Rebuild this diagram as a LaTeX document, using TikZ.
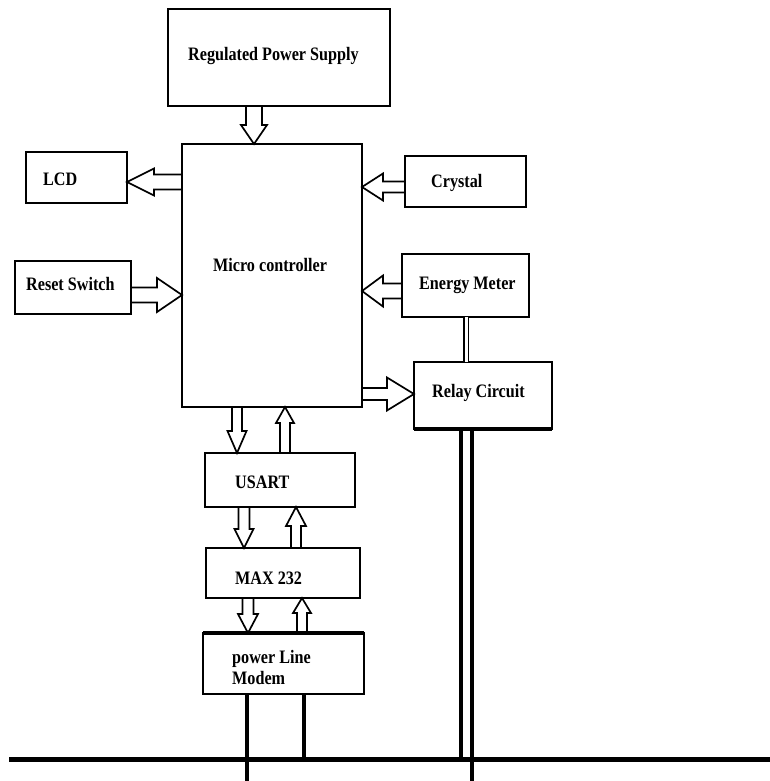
\documentclass[tikz,border=0pt]{standalone}
\usepackage{fontspec}
\setmainfont[FakeStretch=0.85]{Liberation Serif}
\usetikzlibrary{calc}
\tikzset{
  blk/.style={draw, line width=1.8pt, inner sep=0pt, outer sep=0pt},
  txt/.style={anchor=west, inner sep=0pt, font=\fontsize{19}{21}\selectfont\bfseries, align=left},
  barrow/.style={line width=1.7pt, line join=miter, miter limit=20},
  leg/.style={line width=3.5pt},
}
\newcommand{\blockarrow}[5]{%
  \coordinate (hb) at ($(#2)!#5!(#1)$);
  \draw[barrow] ($(#1)!#3!90:(#2)$) -- ($(hb)!#3!-90:(#1)$) -- ($(hb)!#4!-90:(#1)$) -- (#2)
     -- ($(hb)!#4!90:(#1)$) -- ($(hb)!#3!90:(#1)$) -- ($(#1)!#3!-90:(#2)$);
}
\begin{document}
\begin{tikzpicture}[x=1pt,y=-1pt]
\useasboundingbox (0,0) rectangle (770,781);
% boxes
\node[blk, minimum width=222pt, minimum height=97pt] (rps) at (279,57.5) {};
\node[blk, minimum width=180pt, minimum height=263pt] (mc) at (272,275.5) {};
\node[blk, minimum width=101pt, minimum height=51pt] (lcd) at (76.5,177.5) {};
\node[blk, minimum width=121pt, minimum height=51pt] (crystal) at (465.5,181.5) {};
\node[blk, minimum width=116pt, minimum height=53pt] (reset) at (73,287.5) {};
\node[blk, minimum width=127pt, minimum height=63pt] (em) at (465.5,285.5) {};
\node[blk, minimum width=138pt, minimum height=67pt] (relay) at (483,395.5) {};
\node[blk, minimum width=150pt, minimum height=54pt] (usart) at (280,480) {};
\node[blk, minimum width=154pt, minimum height=50pt] (max) at (283,573) {};
\node[blk, minimum width=161pt, minimum height=61pt] (plm) at (283.5,663.5) {};
\draw[line width=4pt] (plm.north west) -- (plm.north east);
\draw[line width=3.5pt] (relay.south west) -- (relay.south east);
% texts
\node[txt] (trps) at (188,56) {Regulated Power Supply};
\node[txt] (tmc) at (213,265) {Micro controller};
\node[txt] (tlcd) at (43,179) {LCD};
\node[txt] (tcry) at (431,183) {Crystal};
\node[txt] (treset) at (26,284) {Reset Switch};
\node[txt] (tem) at (419,285) {Energy Meter};
\node[txt] (trelay) at (432,393) {Relay Circuit};
\node[txt] (tusart) at (235,482) {USART};
\node[txt] (tmax) at (235,578) {MAX 232};
\node[txt] (tplm) at (232,667) {power Line\\Modem};
% block arrows
\blockarrow{254,0 |- rps.south}{254,0 |- mc.north}{8pt}{13pt}{19pt}
\blockarrow{mc.west |- 0,182}{lcd.east |- 0,182}{7.5pt}{13.5pt}{27pt}
\blockarrow{crystal.west |- 0,187}{mc.east |- 0,187}{5.5pt}{13.5pt}{21pt}
\blockarrow{reset.east |- 0,295}{mc.west |- 0,295}{7.5pt}{17pt}{25pt}
\blockarrow{em.west |- 0,291}{mc.east |- 0,291}{7.5pt}{15.5pt}{21pt}
\blockarrow{mc.east |- 0,394}{relay.west |- 0,394}{6pt}{16.5pt}{27pt}
\blockarrow{237,0 |- mc.south}{237,0 |- usart.north}{5pt}{9.5pt}{22pt}
\blockarrow{285,0 |- usart.north}{285,0 |- mc.south}{5pt}{9pt}{16pt}
\blockarrow{244,0 |- usart.south}{244,0 |- max.north}{5.5pt}{9.5pt}{19pt}
\blockarrow{296,0 |- max.north}{296,0 |- usart.south}{5pt}{10pt}{19pt}
\blockarrow{248,0 |- max.south}{248,0 |- plm.north}{5.5pt}{10pt}{19pt}
\blockarrow{302,0 |- plm.north}{302,0 |- max.south}{5pt}{9pt}{15pt}
% energy meter to relay
\draw[double, double distance=3pt, line width=1.6pt] (466,0 |- em.south) -- (466,0 |- relay.north);
% bus
\coordinate (busL) at (9,759.5);
\coordinate (busR) at (770,759.5);
\coordinate (bot) at (0,781);
\draw[line width=5pt] (busL) -- (busR);
\draw[leg] (247,0 |- plm.south) -- (247,0 |- bot);
\draw[leg] (304,0 |- plm.south) -- (304,0 |- busL);
\draw[leg] (461,0 |- relay.south) -- (461,0 |- busL);
\draw[leg] (472,0 |- relay.south) -- (472,0 |- bot);
\end{tikzpicture}
\end{document}
